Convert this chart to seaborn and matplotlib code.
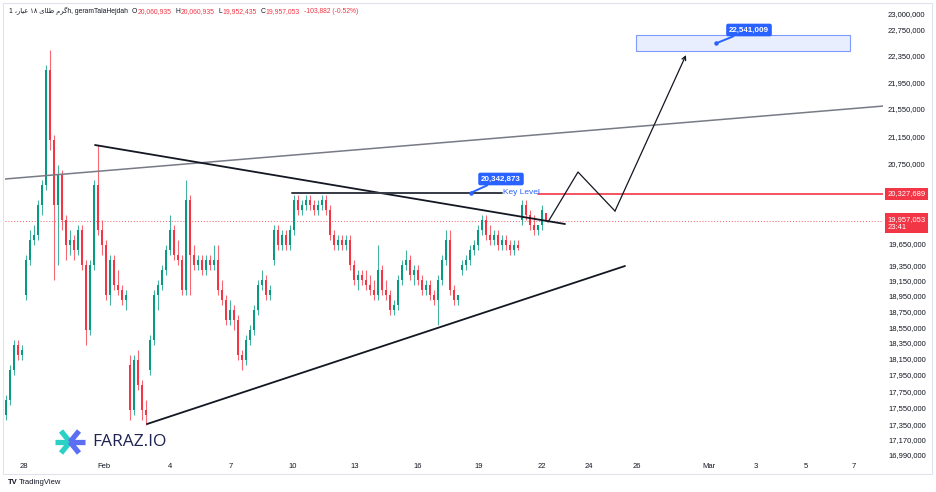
"""Gold 18k (gram) 1h chart - symmetrical triangle with projected breakout."""

import matplotlib
matplotlib.use("Agg")
import matplotlib.pyplot as plt
import numpy as np
import pandas as pd
import seaborn as sns
from matplotlib.lines import Line2D
from matplotlib.patches import Rectangle
from matplotlib.ticker import FixedLocator, NullLocator

sns.set_theme(style="white")
plt.rcParams["font.family"] = ["Liberation Sans", "DejaVu Sans"]

# ---------------------------------------------------------------------------
# Hourly candles, prices in thousands of rials
# ---------------------------------------------------------------------------
opens = [17463, 17644, 18011, 18323, 18198,
         18963, 19424, 19693, 19761, 20172, 20451, 22132, 21093, 20172, 20592,
         19966, 19626, 19693, 19558, 19829, 19358, 18513, 19358, 20451, 19829,
         19626, 18963, 19424, 19094, 19028, 18898,
         18073, 17523, 18135, 17827, 17523,
         18011, 18386, 18963, 19094, 19292, 19558, 19829, 19491, 19424, 19028,
         20242, 19491, 19358, 19424, 19292, 19424, 19358, 19424, 19028, 18898,
         18640, 18769, 18640, 18198, 18135, 18386, 18513, 18769, 19094, 19159,
         18963,
         19424, 19829, 19626, 19761, 19626, 19829, 20242, 20103, 20172, 20242,
         20172, 20103, 20172, 20242, 20103, 19761, 19626, 19693, 19626, 19693,
         19358, 19159, 19225, 19159, 19094, 19028, 18963, 19292, 19028, 18963,
         18769, 18833, 19159, 19358, 19424, 19225, 19292, 19159, 19028, 19094,
         18963, 18898, 19159, 19424, 19693, 19028, 18898,
         19292, 19358, 19424, 19558, 19626, 19829, 19966, 19761, 19693, 19761,
         19626, 19693, 19626, 19558, 19626,
         19966, 20172, 20034, 19897, 19829, 19897, 20060.935]
highs = [17705, 18073, 18386, 18386, 18323,
         19491, 19829, 19897, 20242, 20522, 22208, 22438, 21166, 20734, 20663,
         20034, 19829, 19761, 19897, 19897, 19424, 19424, 20522, 21021, 19966,
         19693, 19491, 19491, 19292, 19094, 19028,
         18198, 18198, 18260, 17888, 17644,
         18449, 19028, 19159, 19358, 19626, 20034, 19897, 19693, 19491, 20522,
         20311, 19626, 19491, 19491, 19491, 19491, 19626, 19626, 19159, 18963,
         18898, 18833, 18704, 18260, 18449, 18576, 18833, 19159, 19292, 19225,
         19094,
         19897, 19897, 19829, 19829, 19897, 20311, 20311, 20242, 20311, 20311,
         20242, 20242, 20311, 20311, 20172, 19829, 19761, 19761, 19761, 19761,
         19424, 19292, 19292, 19292, 19225, 19159, 19626, 19358, 19159, 19028,
         18898, 19225, 19424, 19558, 19491, 19358, 19358, 19225, 19159, 19159,
         19028, 19225, 19491, 19829, 19829, 19094, 18963,
         19424, 19491, 19626, 19693, 19897, 20034, 20034, 19897, 19829, 19829,
         19761, 19761, 19693, 19693, 19693,
         20242, 20242, 20103, 20034, 19897, 20172, 20060.935]
lows = [17403, 17583, 17949, 18135, 18135,
        18898, 19358, 19626, 19693, 20034, 20381, 20949, 19159, 19358, 19829,
        19424, 19491, 19424, 19491, 19292, 18323, 18449, 19292, 19761, 19491,
        18898, 18833, 19028, 18963, 18833, 18769,
        17403, 17463, 17766, 17403, 17343,
        17949, 18323, 18769, 19028, 19225, 19491, 19424, 19358, 18963, 18963,
        18963, 19292, 19292, 19225, 19225, 19292, 19292, 18963, 18833, 18576,
        18576, 18513, 18135, 18011, 18073, 18323, 18449, 18704, 19028, 18898,
        18898,
        19358, 19558, 19558, 19558, 19558, 19761, 20034, 20034, 20103, 20103,
        20034, 20034, 20103, 20034, 19693, 19558, 19558, 19558, 19558, 19292,
        19094, 19028, 19094, 19028, 18963, 18898, 18898, 18963, 18898, 18704,
        18704, 18769, 19094, 19292, 19159, 19094, 19094, 18963, 18963, 18898,
        18833, 18576, 19094, 19358, 18963, 18833, 18833,
        19225, 19292, 19358, 19491, 19558, 19761, 19693, 19626, 19626, 19558,
        19558, 19558, 19491, 19491, 19558,
        19897, 19966, 19829, 19761, 19761, 19829, 19952.435]
closes = [17644, 18011, 18323, 18198, 18260,
          19424, 19693, 19761, 20172, 20451, 22132, 21093, 20172, 20592, 19966,
          19626, 19693, 19558, 19829, 19358, 18513, 19358, 20451, 19829, 19626,
          18963, 19424, 19094, 19028, 18898, 18963,
          17523, 18135, 17827, 17523, 17463,
          18386, 18963, 19094, 19292, 19558, 19829, 19491, 19424, 19028, 20242,
          19491, 19358, 19424, 19292, 19424, 19358, 19424, 19028, 18898, 18640,
          18769, 18640, 18198, 18135, 18386, 18513, 18769, 19094, 19159, 18963,
          19028,
          19829, 19626, 19761, 19626, 19829, 20242, 20103, 20172, 20242, 20172,
          20103, 20172, 20242, 20103, 19761, 19626, 19693, 19626, 19693, 19358,
          19159, 19225, 19159, 19094, 19028, 18963, 19292, 19028, 18963, 18769,
          18833, 19159, 19358, 19424, 19225, 19292, 19159, 19028, 19094, 18963,
          18898, 19159, 19424, 19693, 19028, 18898, 18963,
          19358, 19424, 19558, 19626, 19829, 19966, 19761, 19693, 19761, 19626,
          19693, 19626, 19558, 19626, 19592,
          20172, 20034, 19897, 19829, 19897, 20103, 19957.053]

x_tick_labels = ["28", "Feb", "4", "7", "10", "13", "16", "19", "22",
                 "24", "26", "Mar", "3", "5", "7"]
x_tick_pos = [4.5, 24.5, 41, 56.25, 71.75, 87.25, 103, 118.25, 134,
              145.75, 157.75, 175.75, 187.5, 200, 212]
price_ticks = [23000000, 22750000, 22350000, 21950000, 21550000, 21150000,
               20750000, 19650000, 19350000, 19150000, 18950000, 18750000,
               18550000, 18350000, 18150000, 17950000, 17750000, 17550000,
               17350000, 17170000, 16990000]

# drawings (bar index, price in thousands)
desc_x, desc_p = [22.25, 139.75], [21021, 19911]
asc_x, asc_p = [35.25, 154.75], [17355, 19345]
long_x, long_p = [-0.25, 219.25], [20536, 21591]
key_level, key_x = 20342.873, [71.5, 124]
red_level, red_x = 20327.689, [133, 219.25]
path_x, path_p = [135.5, 143, 152.25, 170], [19938, 20635, 20089, 22361]
box_x, box_p = [157.5, 211], [22430, 22677]
target, target_at = 22541.009, 177.5
last_price, last_time = 19957.053, "23:41"

UP, DOWN, BLUE, INK = "#089981", "#f23645", "#2962ff", "#131722"
K = 1000

# ---------------------------------------------------------------------------
df = pd.DataFrame({"o": opens, "h": highs, "l": lows, "c": closes}) * K
df["i"] = np.arange(len(df))
colors = np.where(df["c"] >= df["o"], UP, DOWN)

fig = plt.figure(figsize=(9.36, 4.92), dpi=100)
ax = fig.add_axes([5 / 936, 31 / 492, 878 / 936, 456 / 492])
ax.set_yscale("log")

ax.vlines(df["i"], df["l"], df["h"], colors=colors, lw=0.8, alpha=0.75,
          zorder=3)
ax.bar(df["i"], (df["c"] - df["o"]).abs().clip(lower=4000),
       bottom=df[["o", "c"]].min(axis=1), width=0.72, color=colors,
       linewidth=0, zorder=3)

# trend lines
for xs, ps, col, lw in [(long_x, long_p, "#787b86", 1.1),
                        (desc_x, desc_p, INK, 1.3),
                        (asc_x, asc_p, INK, 1.3)]:
    sns.lineplot(x=xs, y=np.array(ps) * K, color=col, lw=lw, ax=ax,
                 sort=False, estimator=None, zorder=4)

# levels
ax.axhline(last_price * K, color=DOWN, lw=0.7, ls=(0, (1, 2)), alpha=0.8)
sns.lineplot(x=key_x, y=[key_level * K] * 2, color="#363a45", lw=1.4, ax=ax,
             estimator=None, zorder=4)
sns.lineplot(x=red_x, y=[red_level * K] * 2, color=DOWN, lw=1.4, ax=ax,
             estimator=None, alpha=0.85, zorder=4)
ax.text(128.75, key_level * K, "Key Level", color=BLUE, fontsize=6,
        ha="center", va="center", zorder=5)

# projected move
sns.lineplot(x=path_x[:3], y=np.array(path_p[:3]) * K, color=INK, lw=0.9,
             ax=ax, sort=False, estimator=None, zorder=5)
ax.annotate("", xy=(path_x[3], path_p[3] * K),
            xytext=(path_x[2], path_p[2] * K),
            arrowprops=dict(arrowstyle="->", color=INK, lw=0.9,
                            mutation_scale=7, shrinkA=0, shrinkB=0), zorder=5)

# target zone
ax.add_patch(Rectangle((box_x[0], box_p[0] * K), box_x[1] - box_x[0],
                       (box_p[1] - box_p[0]) * K, facecolor="#e9eefe",
                       edgecolor="#7d9bff", lw=0.8, zorder=2))

# price callouts
for at, price, tx, tp in [(116.25, key_level, 123.75, 20536),
                          (target_at, target, 185.75, 22749)]:
    ax.plot(at, price * K, "o", ms=2.2, color=BLUE, zorder=6)
    ax.annotate(f"{round(price * K):,}", xy=(at, price * K),
                xytext=(tx, tp * K), ha="center", va="center",
                color="white", fontsize=5.8, fontweight="bold", zorder=6,
                bbox=dict(boxstyle="round,pad=0.35,rounding_size=0.25",
                          fc=BLUE, ec="none"),
                arrowprops=dict(arrowstyle="-", color=BLUE, lw=1.4,
                                shrinkA=0, shrinkB=0))

# axes styling
ax.set_xlim(-0.25, 219.25)
ax.set_ylim(16.92e6, 23.143e6)
ax.set_xticks(x_tick_pos, x_tick_labels)
ax.yaxis.tick_right()
ax.yaxis.set_major_locator(FixedLocator(price_ticks))
ax.yaxis.set_minor_locator(NullLocator())
ax.set_yticklabels([f"{v:,}" for v in price_ticks])
ax.tick_params(axis="x", length=0, pad=1.5, labelsize=5.5, colors=INK)
ax.tick_params(axis="y", length=0, pad=3.6, labelsize=5.5, colors=INK)
ax.set_xlabel("")
ax.set_ylabel("")
for s in ax.spines.values():
    s.set_visible(False)
ax.grid(False)

# right-axis price tags
ytr = ax.get_yaxis_transform()
ax.annotate(f"{round(red_level * K):,}", xy=(1.0, red_level * K), xycoords=ytr,
            xytext=(3.2, 0), textcoords="offset points", ha="left",
            va="center", color="white", fontsize=5.5, annotation_clip=False,
            bbox=dict(boxstyle="square,pad=0.3", fc=DOWN, ec="none"))
ax.annotate(f"{round(last_price * K):,}\n{last_time}", xy=(1.0, last_price * K),
            xycoords=ytr, xytext=(3.2, 3.5), textcoords="offset points",
            ha="left", va="top", color="white", fontsize=5.5,
            linespacing=1.25, annotation_clip=False,
            bbox=dict(boxstyle="square,pad=0.3", fc=DOWN, ec="none"))

# header (Persian words in visual order, presentation forms)
fa_title = ("\uFEAD\uFE8E\uFBFF\uFECB \u06F1\u06F8 "
            "\uFBFC\uFE8E\uFEE0\uFEC3 \uFEE1\uFEAE\uFB94")
pieces = [(f"1 \u060C{fa_title}h, geramTalaHejdah", INK, 0),
          ("O", INK, 3), ("20,060,935", DOWN, 0),
          ("H", INK, 3), ("20,060,935", DOWN, 0),
          ("L", INK, 3), ("19,952,435", DOWN, 0),
          ("C", INK, 3), ("19,957,053", DOWN, 0),
          ("-103,882 (-0.52%)", DOWN, 3)]
prev = fig.text(9 / 936, 1 - 13 / 492, pieces[0][0], color=pieces[0][1],
                fontsize=4.9, va="baseline")
for txt, col, gap in pieces[1:]:
    prev = ax.annotate(txt, xy=(1, 0), xycoords=prev, xytext=(gap, 0),
                       textcoords="offset points", va="bottom", color=col,
                       fontsize=4.9, annotation_clip=False)

# FARAZ.IO logo
cx, cy = 70, 442
for ex, ey, col in [(55, 442, "#2bd1c4"), (61, 431, "#2bd1c4"),
                    (61, 453, "#2bd1c4"), (85, 442, "#5c6ef2"),
                    (79, 431, "#5c6ef2"), (79, 453, "#5c6ef2")]:
    fig.add_artist(Line2D([cx / 936, ex / 936], [1 - cy / 492, 1 - ey / 492],
                          color=col, lw=3.8, solid_capstyle="butt"))
fig.text(92 / 936, 1 - 442 / 492, "FARAZ.IO", color="#1e2352", fontsize=12.5,
         family="Open Sans", va="center", ha="left")

# footer and panel frame
fig.text(8 / 936, 1 - 483 / 492, "TV", color=INK, fontsize=5.5,
         fontweight="bold", va="center")
fig.text(19 / 936, 1 - 483 / 492, "TradingView", color=INK, fontsize=5.5,
         va="center")
fig.add_artist(Rectangle((3 / 936, 18 / 492), 929 / 936, 471 / 492,
                         transform=fig.transFigure, fill=False,
                         edgecolor="#e0e3eb", lw=0.8))

fig.savefig("out.png", dpi=100)
plt.close(fig)
